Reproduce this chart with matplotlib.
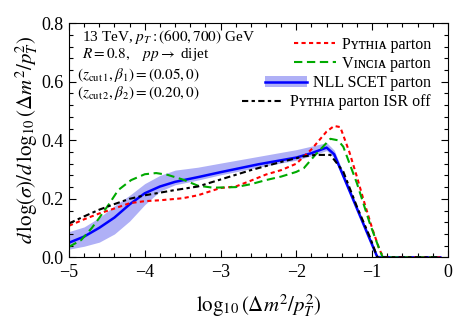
import numpy as np
import matplotlib; matplotlib.use("Agg")
import matplotlib.pyplot as plt
from matplotlib.ticker import MultipleLocator

plt.rcParams["font.family"] = ["Liberation Serif", "DejaVu Serif"]
plt.rcParams["mathtext.fontset"] = "stix"

# NLL SCET parton (central line + uncertainty band)
x_nll = [-5.0, -4.8, -4.6, -4.4, -4.2, -4.0, -3.8, -3.6, -3.3, -3.0, -2.5, -2.0,
         -1.8, -1.6, -1.5, -0.93, -0.1]
y_nll = [0.050, 0.071, 0.101, 0.136, 0.181, 0.219, 0.242, 0.258, 0.274, 0.291,
         0.318, 0.341, 0.356, 0.375, 0.352, 0.0, 0.0]
lo_nll = [0.028, 0.038, 0.052, 0.080, 0.124, 0.180, 0.226, 0.248, 0.264, 0.282,
          0.308, 0.332, 0.347, 0.365, 0.340, 0.0, 0.0]
hi_nll = [0.088, 0.104, 0.136, 0.176, 0.212, 0.252, 0.280, 0.298, 0.308, 0.322,
          0.345, 0.368, 0.380, 0.392, 0.366, 0.008, 0.0]

# Pythia parton
x_py = [-5.0, -4.8, -4.6, -4.4, -4.2, -4.0, -3.8, -3.5, -3.3, -3.0, -2.8, -2.6,
        -2.4, -2.2, -2.0, -1.8, -1.6, -1.5, -1.42, -1.3, -1.2, -1.1, -1.0, -0.9,
        -0.85, -0.1]
y_py = [0.108, 0.130, 0.150, 0.167, 0.185, 0.192, 0.195, 0.202, 0.212, 0.237,
        0.242, 0.262, 0.283, 0.298, 0.320, 0.369, 0.430, 0.449, 0.445, 0.360,
        0.275, 0.185, 0.100, 0.025, 0.0, 0.0]

# Vincia parton
x_vi = [-5.0, -4.84, -4.7, -4.6, -4.48, -4.35, -4.18, -4.0, -3.85, -3.7, -3.5,
        -3.3, -3.1, -2.8, -2.6, -2.4, -2.2, -2.0, -1.9, -1.75, -1.55, -1.45,
        -1.38, -1.2, -1.03, -0.9, -0.86, -0.1]
y_vi = [0.036, 0.059, 0.100, 0.135, 0.179, 0.230, 0.264, 0.284, 0.288, 0.282,
        0.266, 0.245, 0.238, 0.240, 0.250, 0.264, 0.276, 0.292, 0.305, 0.350,
        0.405, 0.400, 0.378, 0.253, 0.116, 0.025, 0.0, 0.0]

# Pythia parton ISR off
x_isr = [-5.0, -4.8, -4.6, -4.4, -4.2, -4.0, -3.8, -3.6, -3.3, -3.0, -2.6, -2.2,
         -1.9, -1.75, -1.55, -1.38, -1.2, -1.03, -0.93, -0.1]
y_isr = [0.116, 0.140, 0.163, 0.182, 0.200, 0.212, 0.221, 0.230, 0.242, 0.266,
         0.298, 0.326, 0.345, 0.350, 0.350, 0.293, 0.173, 0.070, 0.0, 0.0]

fig = plt.figure(figsize=(4.57, 3.27), dpi=100)
ax = fig.add_axes([0.151, 0.213, 0.829, 0.716])

band = ax.fill_between(x_nll, lo_nll, hi_nll, color="#afb0f6", lw=0)
l_nll, = ax.plot(x_nll, y_nll, color="#0000ff", lw=1.8)
l_py, = ax.plot(x_py, y_py, color="#ff0000", lw=1.5, dashes=(2, 1.6))
l_vi, = ax.plot(x_vi, y_vi, color="#00aa00", lw=1.5, dashes=(4, 2.2))
l_isr, = ax.plot(x_isr, y_isr, color="black", lw=1.5, dashes=(3, 1.6, 1.6, 1.6))

ax.set_xlim(-5, 0)
ax.set_ylim(0, 0.8)
ax.xaxis.set_major_locator(MultipleLocator(1))
ax.xaxis.set_minor_locator(MultipleLocator(0.2))
ax.yaxis.set_major_locator(MultipleLocator(0.2))
ax.yaxis.set_minor_locator(MultipleLocator(0.04))
ax.xaxis.set_major_formatter(plt.FuncFormatter(lambda v, p: f"{v:.0f}".replace("-", "\u2212")))
ax.yaxis.set_major_formatter(plt.FuncFormatter(lambda v, p: f"{v:.1f}"))
ax.tick_params(which="both", direction="in", top=True, right=True, labelsize=13)
ax.tick_params(which="major", length=5, width=0.8)
ax.tick_params(which="minor", length=3, width=0.8)
ax.tick_params(axis="x", pad=5)
ax.tick_params(axis="y", pad=4)

ax.set_xlabel(r"$\log_{10}(\Delta m^2/p_T^2)$", fontsize=15, labelpad=8)
ax.set_ylabel(r"$d\,\log(\sigma)/d\,\log_{10}(\Delta m^2/p_T^2)$", fontsize=15, labelpad=1)

info = ["13 TeV, $p_T:(600,700)$ GeV",
        r"$R=0.8,\quad pp\rightarrow$ dijet",
        r"$(z_{\mathrm{cut}\,1},\beta_1)=(0.05,0)$",
        r"$(z_{\mathrm{cut}\,2},\beta_2)=(0.20,0)$"]
xs = [0.033, 0.033, 0.022, 0.022]
ys = [0.940, 0.866, 0.779, 0.702]
for s, xx, yy in zip(info, xs, ys):
    ax.text(xx, yy, s, transform=ax.transAxes, fontsize=11, va="center")

leg = ax.legend([l_py, l_vi, (band, l_nll), l_isr],
                ["P\u028f\u1d1b\u029c\u026a\u1d00 parton",
                 "V\u026a\u0274\u1d04\u026a\u1d00 parton",
                 "NLL SCET parton",
                 "P\u028f\u1d1b\u029c\u026a\u1d00 parton ISR off"],
                loc="upper right", bbox_to_anchor=(0.985, 0.99), frameon=False,
                fontsize=11.5, handlelength=2.6, handletextpad=0.4, labelspacing=0.2,
                borderpad=0.2)
for col in leg._legend_handle_box.get_children():
    col.align = "right"

fig.savefig("out.png", dpi=100)
